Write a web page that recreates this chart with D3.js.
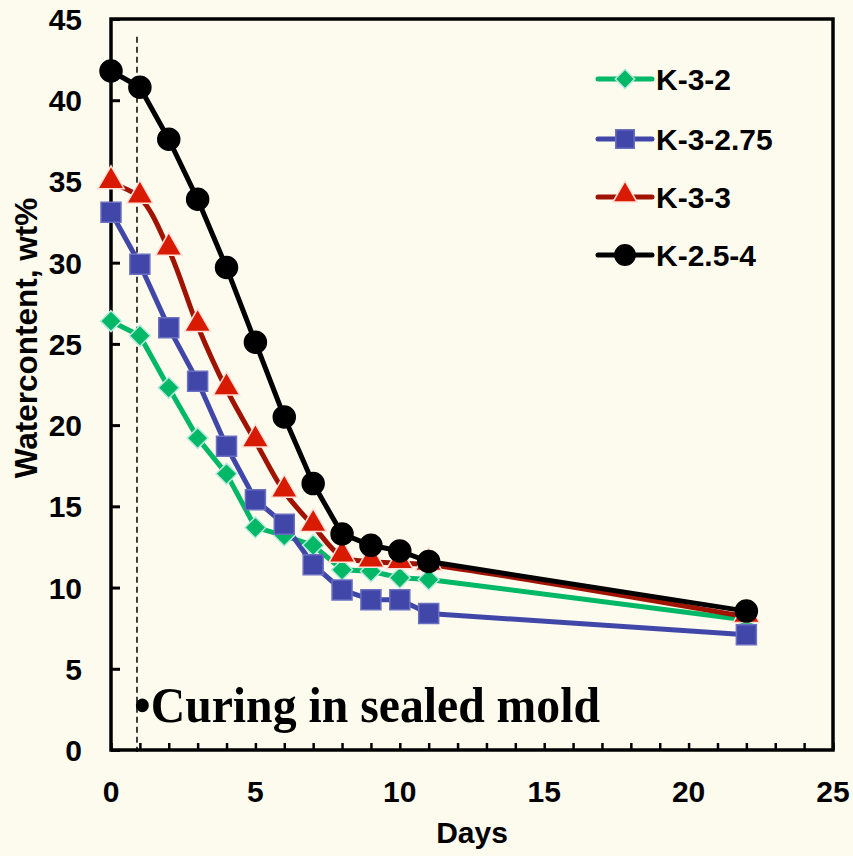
<!DOCTYPE html>
<html><head><meta charset="utf-8">
<script src="https://cdn.jsdelivr.net/npm/d3@7"></script>
<style>html,body{margin:0;padding:0;background:#FDFBEE;}svg{display:block;}</style>
</head><body>
<script>
const days = [0,1,2,3,4,5,6,7,8,9,10,11,22];
const k32   = [26.4,25.5,22.3,19.2,17.0,13.7,13.2,12.6,11.1,11.0,10.6,10.5,8.0];
const k3275 = [33.1,29.9,26.0,22.7,18.7,15.4,13.9,11.4,9.85,9.25,9.25,8.4,7.1];
const k33   = [34.9,34.0,30.8,26.1,22.2,19.0,15.9,13.8,11.9,11.6,11.5,11.4,8.2];
const k254  = [41.8,40.8,37.6,33.9,29.7,25.1,20.5,16.4,13.3,12.6,12.25,11.6,8.55];
const seriesNames = ["K-3-2","K-3-2.75","K-3-3","K-2.5-4"];
const xTicks = [0,5,10,15,20,25];
const yTicks = [0,5,10,15,20,25,30,35,40,45];
const curingDay = 0.9;
const annotation = "•Curing in sealed mold";

const W=853,H=856;
const m={l:111,r:20,t:19,b:106};
const svg=d3.select("body").append("svg").attr("width",W).attr("height",H);
svg.append("rect").attr("width",W).attr("height",H).attr("fill","#FDFBEE");
const x=d3.scaleLinear().domain([0,25]).range([m.l,W-m.r]);
const y=d3.scaleLinear().domain([0,45]).range([H-m.b,m.t]);
const font="'Liberation Sans',Arial,sans-serif";

// dashed line
svg.append("line").attr("x1",x(curingDay)).attr("x2",x(curingDay))
  .attr("y1",y(43.9)).attr("y2",y(0)+2).attr("stroke","#000").attr("stroke-width",1.5)
  .attr("stroke-dasharray","6,4");

// frame
svg.append("rect").attr("x",x(0)).attr("y",y(45)).attr("width",x(25)-x(0)).attr("height",y(0)-y(45))
  .attr("fill","none").attr("stroke","#000").attr("stroke-width",3.5);

// y axis
const ya=svg.append("g").attr("transform",`translate(${x(0)},0)`)
  .call(d3.axisRight(y).tickValues(yTicks).tickSize(9).tickFormat(""));
ya.select(".domain").remove();
ya.selectAll("line").attr("stroke","#000").attr("stroke-width",3);
svg.selectAll(".ylab").data(yTicks).enter().append("text")
  .attr("x",82).attr("y",d=>y(d)+11).attr("text-anchor","end")
  .attr("font-family",font).attr("font-weight","bold").attr("font-size",30).text(d=>d);

// x axis
const minor=d3.range(0,26);
const xa=svg.append("g").attr("transform",`translate(0,${y(0)})`)
  .call(d3.axisTop(x).tickValues(minor).tickSize(7).tickFormat(""));
xa.select(".domain").remove();
xa.selectAll("line").attr("stroke","#000").attr("stroke-width",2.5);
svg.selectAll(".xlab").data(xTicks).enter().append("text")
  .attr("x",d=>x(d)).attr("y",802).attr("text-anchor","middle")
  .attr("font-family",font).attr("font-weight","bold").attr("font-size",30).text(d=>d);

svg.append("text").attr("x",472).attr("y",843).attr("text-anchor","middle")
  .attr("font-family",font).attr("font-weight","bold").attr("font-size",30).text("Days");
svg.append("text").attr("transform","translate(37,338) rotate(-90)").attr("text-anchor","middle")
  .attr("font-family",font).attr("font-weight","bold").attr("font-size",31.5).text("Watercontent, wt%");

// annotation
svg.append("g").attr("transform","translate(134,722) scale(1,1.1)")
  .append("text").attr("x",0).attr("y",0).attr("font-family","'Liberation Serif','Times New Roman',serif")
  .attr("font-weight","bold").attr("font-size",47).attr("textLength",466).attr("lengthAdjust","spacingAndGlyphs")
  .text(annotation);

const diamond={draw(ctx,size){const r=Math.sqrt(size/2);ctx.moveTo(0,-r);ctx.lineTo(r,0);ctx.lineTo(0,r);ctx.lineTo(-r,0);ctx.closePath();}};
const series=[
 {name:seriesNames[0],vals:k32,line:"#00B865",fill:"#00B865",stroke:"#B8E8E0",sym:diamond,size:220,curve:d3.curveLinear},
 {name:seriesNames[1],vals:k3275,line:"#4147A8",fill:"#4147A8",stroke:"#6A6FC0",sym:d3.symbolSquare,size:400,curve:d3.curveLinear},
 {name:seriesNames[2],vals:k33,line:"#A01300",fill:"#D81B00",stroke:"#FFE0D8",sym:d3.symbolTriangle,size:300,curve:d3.curveCatmullRom},
 {name:seriesNames[3],vals:k254,line:"#000000",fill:"#000000",stroke:"#000",sym:d3.symbolCircle,size:380,curve:d3.curveLinear}
];
series.forEach(s=>{
  const pts=days.map((d,i)=>[d,s.vals[i]]);
  svg.append("path").datum(pts).attr("fill","none").attr("stroke",s.line).attr("stroke-width",5)
    .attr("stroke-linejoin","round")
    .attr("d",d3.line().x(d=>x(d[0])).y(d=>y(d[1])).curve(s.curve));
});
series.forEach(s=>{
  const pts=days.map((d,i)=>[d,s.vals[i]]);
  svg.selectAll(null).data(pts).enter().append("path")
    .attr("transform",d=>`translate(${x(d[0])},${y(d[1])})${s.sym===d3.symbolTriangle?" translate(0,-2)":""}`)
    .attr("d",d3.symbol().type(s.sym).size(s.size)).attr("fill",s.fill).attr("stroke",s.stroke).attr("stroke-width",1.5);
});

// legend
const ly=[79,139,197,255];
series.forEach((s,i)=>{
  const g=svg.append("g").attr("transform",`translate(598,${ly[i]})`);
  g.append("line").attr("x1",0).attr("x2",54).attr("stroke",s.line).attr("stroke-width",5).attr("stroke-linecap","round");
  g.append("path").attr("transform",`translate(27,${s.sym===d3.symbolTriangle?-2:0})`)
    .attr("d",d3.symbol().type(s.sym).size(s.size*0.85)).attr("fill",s.fill).attr("stroke",s.stroke).attr("stroke-width",1.5);
  g.append("text").attr("x",58).attr("y",11).attr("font-family",font).attr("font-weight","bold")
    .attr("font-size",30).text(s.name);
});
</script>
</body></html>
